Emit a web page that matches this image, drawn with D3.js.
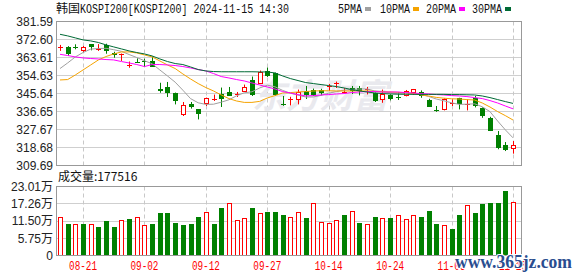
<!DOCTYPE html>
<html>
<head>
<meta charset="utf-8">
<script src="https://d3js.org/d3.v7.min.js"></script>
<style>
  body { margin: 0; background: #fff; }
  svg { display: block; }
  .ylab { font-family: "Liberation Sans", "Noto Sans CJK SC", sans-serif; font-size: 12px; fill: #222; }
  .mono { font-family: "Liberation Mono", monospace; font-size: 12px; }
  .cjk { font-family: "Noto Sans CJK SC", sans-serif; font-size: 12px; }
</style>
</head>
<body>
<div id="chart"></div>
<script>
// ---- data ----
var dates = ["08-16","08-19","08-20","08-21","08-22","08-23","08-26","08-27","08-28","08-29",
  "08-30","09-02","09-03","09-04","09-05","09-06","09-09","09-10","09-11","09-12",
  "09-13","09-19","09-20","09-23","09-24","09-25","09-26","09-27","09-30","10-02",
  "10-04","10-07","10-08","10-10","10-11","10-14","10-15","10-16","10-17","10-18",
  "10-21","10-22","10-23","10-24","10-25","10-28","10-29","10-30","10-31","11-01",
  "11-04","11-05","11-06","11-07","11-08","11-11","11-12","11-13","11-14","11-15"];

var open = [368.6,369.0,369.2,367.2,370.2,367.9,369.8,365.9,365.0,359.6,
  361.8,362.0,361.9,348.0,348.9,345.9,335.6,340.4,337.7,340.7,
  343.0,345.6,346.5,345.2,347.0,352.2,350.7,356.9,355.7,340.4,
  342.5,342.7,347.1,347.6,347.6,349.0,350.6,345.9,348.6,348.4,
  347.5,345.7,342.7,344.7,344.4,344.9,346.4,346.5,342.2,337.4,
  337.7,340.8,343.5,340.0,343.5,338.2,333.5,324.9,319.9,318.3];
var high = [369.9,369.3,370.2,369.4,370.3,370.3,370.5,366.5,365.6,361.6,
  363.2,363.0,364.1,351.0,351.4,346.1,341.4,341.4,337.9,343.6,
  345.1,348.6,348.9,346.4,350.1,354.1,357.1,358.6,356.1,344.4,
  344.0,347.6,349.4,348.1,348.0,350.4,351.6,348.3,349.4,349.4,
  348.9,346.1,347.6,345.2,346.4,347.4,347.9,347.2,343.0,339.4,
  343.2,342.7,343.5,342.7,344.4,338.7,334.0,326.9,321.4,321.9];
var low = [366.9,364.4,367.7,366.4,367.2,366.9,365.5,363.5,361.9,358.5,
  360.9,359.0,358.9,346.0,343.9,340.2,334.4,338.1,332.7,339.4,
  341.9,338.9,344.4,343.9,346.7,344.4,350.4,353.9,344.4,339.5,
  339.7,340.2,342.9,344.4,344.7,346.9,348.4,345.7,345.4,344.7,
  345.2,341.4,341.0,342.2,342.4,344.2,344.9,343.5,339.0,336.5,
  337.2,339.4,337.7,337.2,338.7,333.5,326.9,317.8,316.9,315.6];
var close = [369.0,365.5,368.9,368.7,369.0,368.3,366.9,364.9,365.4,360.1,
  361.4,361.6,359.1,346.7,345.9,342.1,339.9,338.7,335.3,343.4,
  343.2,343.0,344.5,345.6,349.1,345.1,356.2,354.4,344.7,340.0,
  342.9,346.4,344.9,345.1,345.7,349.4,350.9,346.6,347.0,346.8,
  347.9,341.9,345.2,342.7,343.8,346.9,347.7,344.4,339.0,337.0,
  342.7,341.2,340.2,340.4,339.4,334.4,326.9,318.6,317.4,319.8];
var prevClose = 366.5;

var volume = [127500,105000,105000,105000,105000,93900,115000,93900,117400,122000,
  127500,100600,105000,142000,142000,109000,102000,105000,127500,144000,
  105000,158000,174000,117400,124000,158000,141000,144000,144000,134000,
  127500,144000,124000,174000,110700,107000,119400,135000,147600,108300,
  104000,127500,124000,124000,135000,120700,135000,128500,148600,105000,
  100600,88200,135000,168700,142900,173100,175400,175400,215700,177516];

var ma5 = [358.1,360.9,363.9,366.1,367.8,368.1,368.2,367.5,366.7,365.1,
  363.6,362.0,360.5,357.4,354.4,351.3,347.3,343.1,341.0,340.2,
  340.3,341.3,342.5,344.5,346.0,346.5,348.4,349.8,349.0,347.2,
  345.8,344.8,343.9,343.9,344.7,345.8,346.6,347.3,347.7,347.9,
  347.9,346.9,346.5,346.0,345.5,345.3,345.7,345.1,344.2,342.9,
  342.0,341.0,340.2,340.3,340.5,339.0,336.6,331.9,327.5,323.5];
var ma10 = [352.4,352.6,354.9,357.4,359.9,362.4,364.1,365.4,366.4,366.4,
  365.9,364.9,363.9,361.9,359.9,358.1,355.4,352.9,350.6,348.6,
  346.9,344.9,343.1,341.9,341.2,341.2,341.7,343.4,344.6,345.9,
  346.1,346.4,346.6,346.9,347.0,347.0,346.9,346.9,346.9,346.9,
  346.9,346.7,346.5,346.4,346.2,346.0,345.7,345.0,344.4,343.7,
  343.3,343.0,342.9,342.6,342.4,340.9,338.9,336.6,334.6,332.4];
var ma20 = [365.2,364.6,363.9,363.4,363.1,362.9,362.6,362.4,361.6,360.9,
  360.1,359.1,360.1,360.1,359.9,359.6,359.1,358.4,357.6,356.9,
  355.6,354.1,353.4,352.6,351.9,350.9,349.9,348.9,347.9,346.6,
  345.9,345.1,344.4,344.6,344.9,345.1,345.4,345.6,346.1,346.4,
  346.6,346.6,346.4,346.4,346.4,346.1,345.9,345.6,345.4,345.1,
  344.9,344.6,344.4,344.1,343.6,343.1,342.1,340.9,339.4,338.0];
var ma30 = [375.2,374.4,373.4,372.4,371.9,371.1,369.9,368.9,367.9,366.9,
  366.1,365.4,364.4,362.9,361.6,360.6,360.1,358.9,357.6,356.9,
  356.6,356.5,356.5,356.5,356.5,356.5,356.4,356.4,355.9,354.4,
  353.1,352.1,351.1,350.6,350.1,349.6,349.1,348.4,347.6,346.9,
  346.4,345.9,345.6,345.4,345.3,345.3,345.2,345.2,345.2,345.2,
  345.2,345.1,345.1,345.0,344.9,344.4,343.6,342.6,341.6,340.7];

var priceTicks = [381.59, 372.60, 363.61, 354.63, 345.64, 336.65, 327.67, 318.68, 309.69];
var volTicks = [230100, 172575, 115050, 57525, 0];
var volTickLabels = ["23.01万", "17.26万", "11.50万", "5.75万", "0"];
var dateTicks = ["08-21","09-02","09-12","09-27","10-14","10-24","11-05","11-15"];
var maNames = ["5PMA", "10PMA", "20PMA", "30PMA"];

// ---- drawing ----
var W = 578, H = 276, L = 56, R = 522;
var RED = "#ff0000", GREEN = "#008000";
var maColors = ["#a0a0a0", "#f5a300", "#ff00ff", "#006a35"];

var svg = d3.select("#chart").append("svg").attr("width", W).attr("height", H);

var x = d3.scalePoint().domain(dates).range([60, 513]);
var y = d3.scaleLinear().domain([309.69, 381.59]).range([165.5, 21.5]);
var yv = d3.scaleLinear().domain([0, 230100]).range([255.5, 186.5]);
var cx = function(i) { return Math.round(x(dates[i])); };

// grids
function hgrid(vals, sc) {
  svg.append("g").selectAll("line").data(vals).enter().append("line")
    .attr("x1", L).attr("x2", R)
    .attr("y1", function(d){ return Math.round(sc(d) - 0.5) + 0.5; })
    .attr("y2", function(d){ return Math.round(sc(d) - 0.5) + 0.5; })
    .attr("stroke", "#cfcfcf");
}
hgrid(priceTicks, y);
hgrid(volTicks, yv);

[[21.5, 165.5], [186.5, 255.5]].forEach(function(r) {
  svg.append("g").selectAll("line").data(dateTicks).enter().append("line")
    .attr("x1", function(d){ return Math.round(x(d)) + 0.5; })
    .attr("x2", function(d){ return Math.round(x(d)) + 0.5; })
    .attr("y1", r[0]).attr("y2", r[1])
    .attr("stroke", "#c8c8c8").attr("stroke-dasharray", "4,3");
});

// watermark
svg.append("text").attr("x", 252).attr("y", 108)
  .attr("font-family", "Noto Sans CJK SC").attr("font-size", 34).attr("font-weight", "bold")
  .attr("font-style", "italic").attr("fill", "#e9e9ee").text("东方财富");

// candles
var candles = svg.append("g");
d3.range(dates.length).forEach(function(i) {
  var c = cx(i), o = open[i], cl = close[i];
  var up = cl >= o;
  var col = up ? RED : GREEN;
  var top = y(Math.max(o, cl)), bot = y(Math.min(o, cl));
  var yh = y(high[i]), yl = y(low[i]);
  if (bot - top < 1.5) {
    var ym = Math.round((top + bot) / 2) + 0.5;
    candles.append("line").attr("x1", c + 0.5).attr("x2", c + 0.5).attr("y1", yh).attr("y2", yl).attr("stroke", col);
    candles.append("line").attr("x1", c - 2).attr("x2", c + 3).attr("y1", ym).attr("y2", ym).attr("stroke", col);
  } else if (up) {
    var t = Math.round(top) + 0.5, b = Math.round(bot) + 0.5;
    candles.append("line").attr("x1", c + 0.5).attr("x2", c + 0.5).attr("y1", yh).attr("y2", t).attr("stroke", col);
    candles.append("line").attr("x1", c + 0.5).attr("x2", c + 0.5).attr("y1", b).attr("y2", yl).attr("stroke", col);
    candles.append("rect").attr("x", c - 1.5).attr("y", t).attr("width", 4).attr("height", b - t)
      .attr("fill", "#fff").attr("stroke", col);
  } else {
    candles.append("line").attr("x1", c + 0.5).attr("x2", c + 0.5).attr("y1", yh).attr("y2", yl).attr("stroke", col);
    candles.append("rect").attr("x", c - 2).attr("y", Math.round(top)).attr("width", 5)
      .attr("height", Math.max(1, Math.round(bot) - Math.round(top))).attr("fill", col);
  }
});

// moving averages
[ma5, ma10, ma20, ma30].forEach(function(arr, k) {
  var line = d3.line().x(function(d, i){ return x(dates[i]); }).y(function(d){ return y(d); });
  svg.append("path").attr("d", line(arr)).attr("fill", "none")
    .attr("stroke", maColors[k]).attr("stroke-width", 1);
});

// volume bars
var vb = svg.append("g");
volume.forEach(function(v, i) {
  var c = cx(i);
  var prev = i === 0 ? prevClose : close[i - 1];
  var t = Math.round(yv(v));
  if (close[i] >= prev) {
    vb.append("rect").attr("x", c - 1.5).attr("y", t + 0.5).attr("width", 4).attr("height", 255 - t)
      .attr("fill", "#fff").attr("stroke", RED);
  } else {
    vb.append("rect").attr("x", c - 2).attr("y", t).attr("width", 5).attr("height", 256 - t).attr("fill", GREEN);
  }
});

// frames
[[21.5, 165.5], [186.5, 255.5]].forEach(function(r) {
  svg.append("rect").attr("x", L + 0.5).attr("y", r[0]).attr("width", R - L - 1).attr("height", r[1] - r[0])
    .attr("fill", "none").attr("stroke", "#999");
});

// axis labels
svg.append("g").selectAll("text").data(priceTicks).enter().append("text")
  .attr("class", "ylab").attr("x", 53).attr("y", function(d){ return y(d); }).attr("dy", "0.36em")
  .attr("text-anchor", "end").text(function(d){ return d.toFixed(2); });

svg.append("g").selectAll("text").data(volTicks).enter().append("text")
  .attr("class", "ylab").attr("x", 53).attr("y", function(d){ return yv(d); }).attr("dy", "0.36em")
  .attr("text-anchor", "end").text(function(d, i){ return volTickLabels[i]; });

svg.append("g").selectAll("text").data(dateTicks).enter().append("text")
  .attr("class", "mono").attr("x", function(d){ return x(d); }).attr("y", 270)
  .attr("text-anchor", "middle").attr("fill", RED)
  .attr("textLength", 28).attr("lengthAdjust", "spacingAndGlyphs").text(function(d){ return d; });

// title
svg.append("text").attr("class", "cjk").attr("x", 56).attr("y", 13).attr("fill", "#111").text("韩国");
svg.append("text").attr("class", "mono").attr("x", 80).attr("y", 13).attr("fill", "#111")
  .attr("textLength", 209).attr("lengthAdjust", "spacingAndGlyphs")
  .text("KOSPI200[KOSPI200] 2024-11-15 14:30");

// legend
var legX = [338, 380, 426, 472];
maNames.forEach(function(n, k) {
  var w = n.length * 6;
  svg.append("text").attr("class", "mono").attr("x", legX[k]).attr("y", 13).attr("fill", "#111")
    .attr("textLength", w).attr("lengthAdjust", "spacingAndGlyphs").text(n);
  svg.append("rect").attr("x", legX[k] + w + 3).attr("y", 7).attr("width", 6).attr("height", 4)
    .attr("fill", maColors[k]);
});

// volume caption
svg.append("text").attr("x", 58).attr("y", 181).attr("fill", "#111")
  .attr("font-family", "'Noto Sans CJK SC', sans-serif").attr("font-size", 12)
  .text("成交量:" + volume[volume.length - 1]);

// site stamp (sits over the last date labels, as in the reference)
svg.append("text").attr("x", 455).attr("y", 268)
  .attr("font-family", "Liberation Serif").attr("font-size", 18).attr("font-weight", "bold")
  .attr("fill", "#2a4d8f").attr("stroke", "#fff").attr("stroke-width", 2).attr("paint-order", "stroke")
  .attr("textLength", 117).attr("lengthAdjust", "spacingAndGlyphs").text("www.365jz.com");
</script>
</body>
</html>
